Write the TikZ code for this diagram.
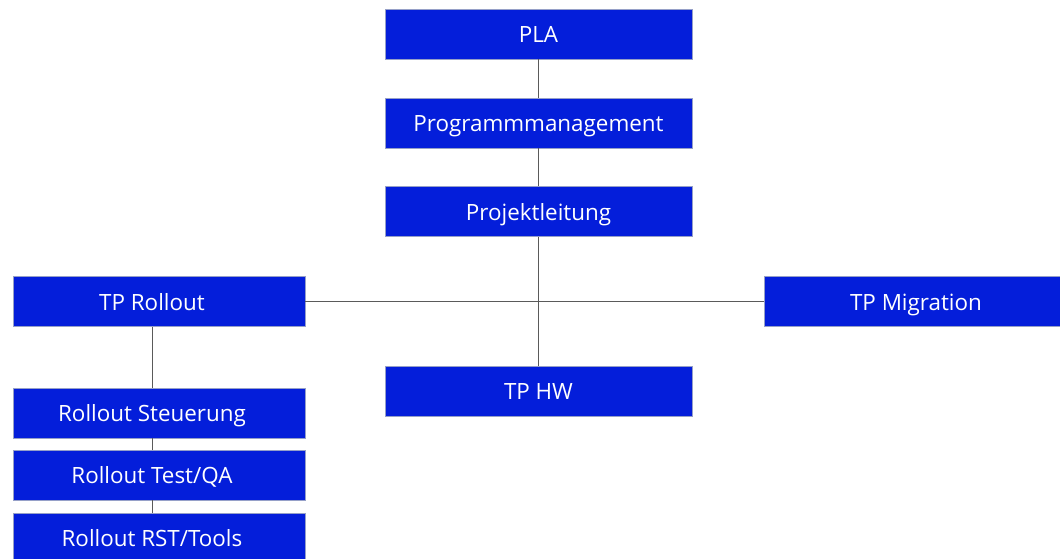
\documentclass[tikz,border=0pt]{standalone}
\usepackage{fontspec}
\setmainfont{Open Sans}
\definecolor{boxblue}{RGB}{4,30,218}
\definecolor{linegray}{RGB}{90,90,90}
\definecolor{edgegray}{RGB}{150,160,200}
\begin{document}
\begin{tikzpicture}[x=1pt,y=-1pt,
  lbl/.style={text=white,font=\fontsize{22.4}{26}\selectfont,text height=17pt,text depth=0pt,inner sep=0pt},
  box/.style={draw=edgegray,line width=0.6pt,fill=boxblue,minimum height=50pt,lbl},
  midbox/.style={box,minimum width=307pt},
  sidebox/.style={box,minimum width=292pt},
  conn/.style={draw=linegray,line width=0.8pt}]
\useasboundingbox (0,0) rectangle (1060,559);
\begin{scope}
\clip (0,0) rectangle (1060,559);
\node[midbox] (pla) at (538.5,34) {PLA};
\node[midbox] (pm) at (538.5,123) {Programmmanagement};
\node[midbox] (pl) at (538.5,211.5) {Projektleitung};
\node[sidebox,label={[lbl,xshift=-7pt]center:TP Rollout}] (tpr) at (159,301.5) {};
\node[box,minimum width=304pt] (tpm) at (916,301.5) {TP Migration};
\node[midbox] (tphw) at (538.5,391) {TP HW};
\node[sidebox,label={[lbl,xshift=-7pt]center:Rollout Steuerung}] (rs) at (159,413) {};
\node[sidebox,label={[lbl,xshift=-7pt]center:Rollout Test/QA}] (rt) at (159,475) {};
\node[sidebox,label={[lbl,xshift=-7pt]center:Rollout RST/Tools}] (rr) at (159,538) {};
\draw[conn] (pla.south) -- (pm.north);
\draw[conn] (pm.south) -- (pl.north);
\draw[conn] (pl.south) -- (tphw.north);
\draw[conn] (tpr.east) -- (tpm.west);
\draw[conn] ([xshift=-7pt]tpr.south) -- ([xshift=-7pt]rs.north);
\draw[conn] ([xshift=-7pt]rs.south) -- ([xshift=-7pt]rt.north);
\draw[conn] ([xshift=-7pt]rt.south) -- ([xshift=-7pt]rr.north);
\end{scope}
\end{tikzpicture}
\end{document}
